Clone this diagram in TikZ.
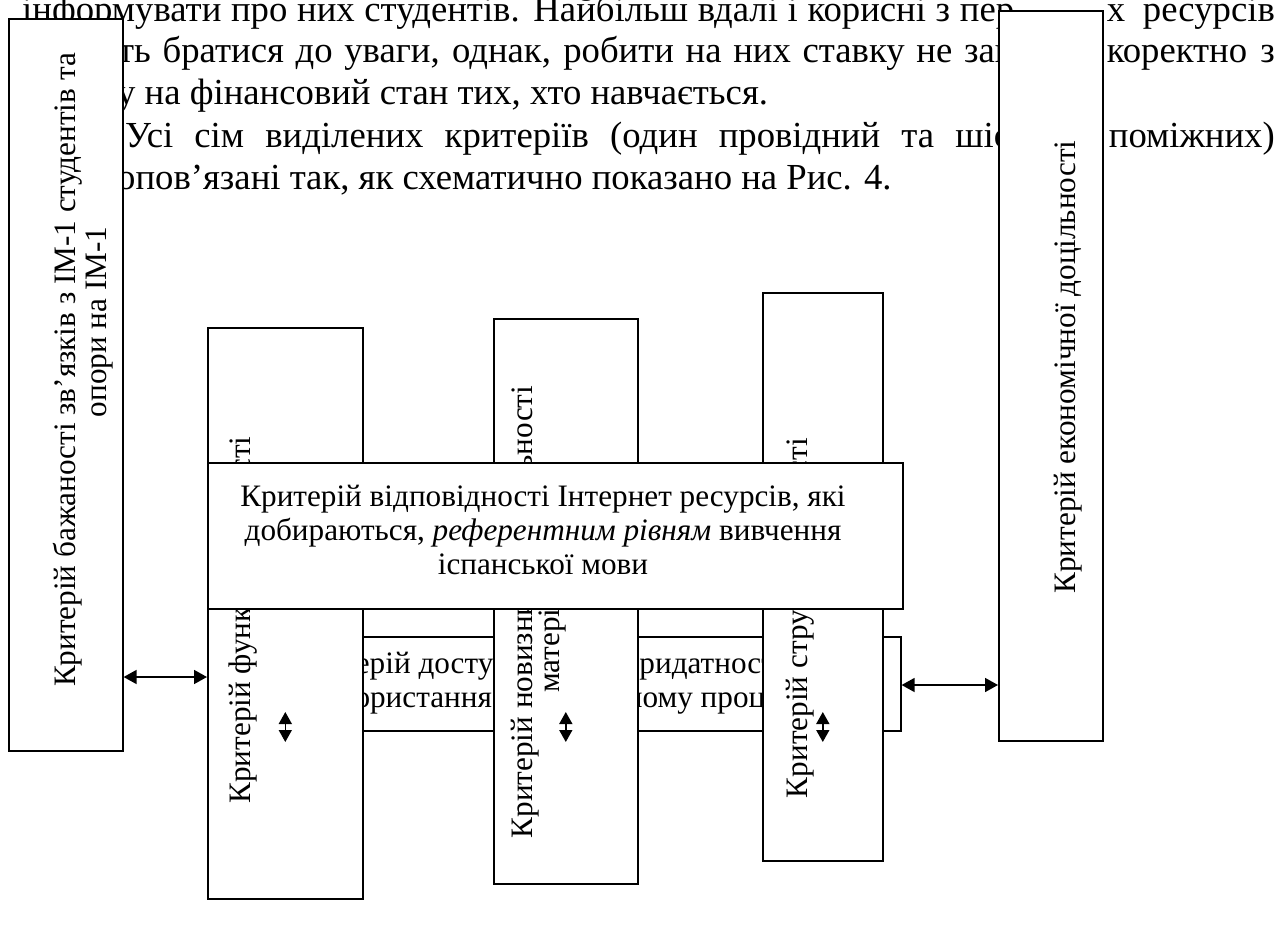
\documentclass[tikz,border=0pt]{standalone}
\usepackage{fontspec}
\setmainfont{Liberation Serif}
\usetikzlibrary{arrows.meta}
\begin{document}
\begin{tikzpicture}[x=1pt,y=-1pt,
  ptxt/.style={font=\fontsize{36.7}{42}\selectfont, inner sep=0pt},
  txt/.style={font=\fontsize{31.2}{34}\selectfont, inner sep=0pt},
  vtxt/.style={txt, rotate=90},
  box/.style={draw, line width=1.6pt, fill=white, anchor=north west, inner sep=0pt},
  dbl/.style={line width=1.6pt, {Triangle[length=13pt,width=14pt]}-{Triangle[length=13pt,width=14pt]}},
  sdbl/.style={line width=1.6pt, {Triangle[length=12pt,width=13pt]}-{Triangle[length=12pt,width=13pt]}},
]
\useasboundingbox (0,0) rectangle (1287,926);
% background paragraph text
\node[ptxt, anchor=base west] (p1a) at (22,21) {\makebox[992pt][s]{інформувати про них студентів. Найбільш вдалі і корисні з пер}};
\node[ptxt, anchor=base east] (p1b) at (1275,21) {\makebox[168pt][s]{х ресурсів}};
\node[ptxt, anchor=base west] (p2a) at (118,62) {\makebox[894pt][s]{ть братися до уваги, однак, робити на них ставку не зав}};
\node[ptxt, anchor=base east] (p2b) at (1275,62) {\makebox[168pt][s]{коректно з}};
\node[ptxt, anchor=base west] (p3) at (117,104) {у на фінансовий стан тих, хто навчається.};
\node[ptxt, anchor=base west] (p4a) at (125,147) {\makebox[885pt][s]{Усі сім виділених критеріїв (один провідний та шіс}};
\node[ptxt, anchor=base east] (p4b) at (1275,147) {поміжних)};
\node[ptxt, anchor=base west] (p5) at (117,189) {опов’язані так, як схематично показано на Рис. 4.};
% left box
\node[box, minimum width=114pt, minimum height=732pt] (L) at (8,18) {};
\node[vtxt] (Lt1) at (68,370) {Критерій бажаності зв’язків з ІМ-1 студентів та};
\node[vtxt] (Lt2) at (100,322) {опори на ІМ-1};
% right box
\node[box, minimum width=104pt, minimum height=730pt] (R) at (998,10) {};
\node[vtxt] (Rt) at (1068,367) {Критерій економічної доцільності};
% access box
\node[box, minimum width=688pt, minimum height=94pt] (A) at (212,636) {};
\node[txt, align=center] (At) at (556,683) {Критерій доступності та придатності до\\використання в навчальному процесі};
% vertical boxes
\coordinate (ya) at (0,712);
\coordinate (yb) at (0,742);
\node[box, minimum width=155pt, minimum height=571pt] (F) at (207,327) {};
\node[vtxt] (Ft) at (243,620) {Критерій функціональності};
\draw[sdbl] (F.center |- ya) -- (F.center |- yb);
\node[box, minimum width=144pt, minimum height=565pt] (N) at (493,318) {};
\node[vtxt] (Nt1) at (525,612) {Критерій новизни та актуальності};
\node[vtxt] (Nt2) at (553,628) {матеріалу};
\draw[sdbl] (N.center |- ya) -- (N.center |- yb);
\node[box, minimum width=120pt, minimum height=568pt] (S) at (762,292) {};
\node[vtxt] (St) at (800,618) {Критерій структурованості};
\draw[sdbl] (S.center |- ya) -- (S.center |- yb);
% main box
\node[box, minimum width=695pt, minimum height=146pt] (M) at (207,462) {};
\node[txt, align=center] (Mt) at (543,530) {Критерій відповідності Інтернет ресурсів, які\\добираються, \textit{референтним рівням} вивчення\\іспанської мови};
% connectors
\coordinate (yl) at (0,677);
\coordinate (yr) at (0,685);
\draw[dbl] (L.east |- yl) -- (F.west |- yl);
\draw[dbl] (A.east |- yr) -- (R.west |- yr);
\end{tikzpicture}
\end{document}
